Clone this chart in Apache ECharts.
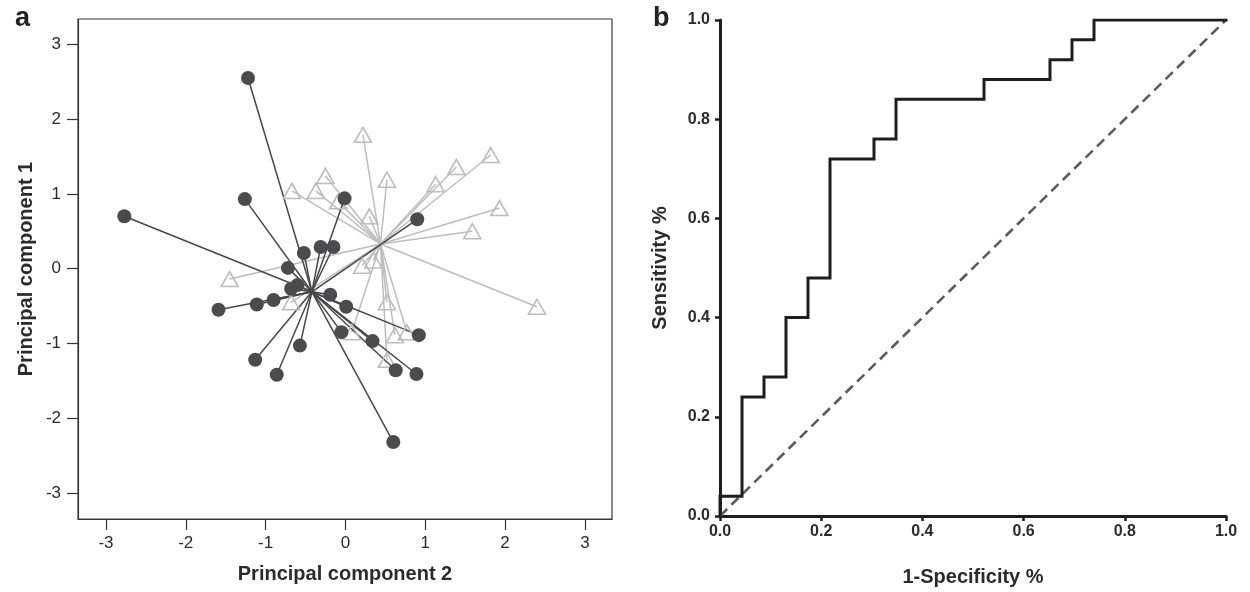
<!DOCTYPE html>
<html>
<head>
<meta charset="utf-8">
<script src="https://cdn.jsdelivr.net/npm/echarts@6/dist/echarts.min.js"></script>
<style>
  html, body { margin: 0; padding: 0; background: #fff; }
  #chart { width: 1250px; height: 592px; }
</style>
</head>
<body>
<div id="chart"></div>
<script>
// panel a: PCA scores, group 1 (filled circles) and group 2 (open triangles)
const group1X = [-1.22, -2.77, -1.26, -0.01, 0.90, -0.31, -0.15, -0.52, -0.72, -0.68, -0.60, -0.90, -1.11,
  -1.59, -1.13, -0.86, -0.57, -0.19, 0.01, -0.05, 0.34, 0.92, 0.63, 0.89, 0.60];
const group1Y = [2.55, 0.70, 0.93, 0.94, 0.66, 0.29, 0.29, 0.21, 0.01, -0.27, -0.22, -0.42, -0.48,
  -0.55, -1.22, -1.42, -1.03, -0.35, -0.51, -0.85, -0.97, -0.89, -1.36, -1.41, -2.32];
const group2X = [-0.67, -0.37, -0.25, 0.22, 0.52, 0.30, 1.13, 1.39, 1.82, 1.93, 1.59, 2.40, 0.21,
  0.35, 0.52, 0.62, 0.77, 0.08, 0.52, -1.45, -0.68, -0.09];
const group2Y = [1.04, 1.04, 1.24, 1.79, 1.19, 0.70, 1.13, 1.36, 1.52, 0.81, 0.50, -0.51, 0.04,
  0.11, -0.45, -0.89, -0.85, -0.85, -1.22, -0.14, -0.45, 0.90];
const group1Centre = [-0.42, -0.31];
const group2Centre = [0.44, 0.33];
const pcaTicks = [-3, -2, -1, 0, 1, 2, 3];

// panel b: ROC curve vertices
const rocFpr = [0, 0, 1/23, 1/23, 2/23, 2/23, 3/23, 3/23, 4/23, 4/23, 5/23, 5/23, 7/23, 7/23,
  8/23, 8/23, 12/23, 12/23, 15/23, 15/23, 16/23, 16/23, 17/23, 17/23, 1];
const rocTpr = [0, 0.04, 0.04, 0.24, 0.24, 0.28, 0.28, 0.40, 0.40, 0.48, 0.48, 0.72, 0.72, 0.76,
  0.76, 0.84, 0.84, 0.88, 0.88, 0.92, 0.92, 0.96, 0.96, 1.0, 1.0];
const chanceLine = [[0, 0], [1, 1]];

const FONT = '"Liberation Sans", Arial, sans-serif';
const pts1 = group1X.map((x, i) => [x, group1Y[i]]);
const pts2 = group2X.map((x, i) => [x, group2Y[i]]);
const spokes = (pts, c) => pts.map(p => ({ coords: [c, p] }));

const chart = echarts.init(document.getElementById('chart'));

const pcaAxis = {
  type: 'value',
  min: -3.35, max: 3.34,
  axisLine: { show: true, onZero: false, lineStyle: { color: '#3a3a3a', width: 1.2 } },
  axisTick: { show: true, length: 11, customValues: pcaTicks, lineStyle: { color: '#333', width: 1.2 } },
  splitLine: { show: false },
  nameLocation: 'middle',
  nameTextStyle: { fontFamily: FONT, fontSize: 20, fontWeight: 'bold', color: '#2b2b2b' }
};
const rocAxis = {
  type: 'value',
  min: 0, max: 1, interval: 0.2,
  axisLine: { show: true, onZero: false, lineStyle: { color: '#1e1e1e', width: 3 } },
  axisTick: { show: true, length: 5, lineStyle: { color: '#1e1e1e', width: 2.5 } },
  splitLine: { show: false },
  nameLocation: 'middle',
  nameTextStyle: { fontFamily: FONT, fontSize: 20, fontWeight: 'bold', color: '#2b2b2b' }
};

chart.setOption({
  animation: false,
  backgroundColor: '#fff',
  title: [
    { text: 'a', left: 10, top: 0, textStyle: { fontFamily: FONT, fontSize: 27, fontWeight: 'bold', color: '#222' } },
    { text: 'b', left: 648, top: 0, textStyle: { fontFamily: FONT, fontSize: 27, fontWeight: 'bold', color: '#222' } }
  ],
  grid: [
    { left: 78, top: 19, width: 534, height: 500, show: true, borderColor: '#3a3a3a', borderWidth: 1.2, backgroundColor: '#fff' },
    { left: 720, top: 20, width: 506, height: 498 }
  ],
  xAxis: [
    Object.assign({}, pcaAxis, {
      gridIndex: 0, name: 'Principal component 2', nameGap: 45,
      axisLabel: { customValues: pcaTicks, margin: 16, fontFamily: FONT, fontSize: 17, color: '#2b2b2b' }
    }),
    Object.assign({}, rocAxis, {
      gridIndex: 1, name: '1-Specificity %', nameGap: 51,
      axisLabel: { margin: 8, fontFamily: FONT, fontSize: 16, fontWeight: 'bold', color: '#2b2b2b',
        formatter: v => v.toFixed(1) }
    })
  ],
  yAxis: [
    Object.assign({}, pcaAxis, {
      gridIndex: 0, name: 'Principal component 1', nameGap: 42,
      axisLabel: { customValues: pcaTicks, margin: 17, fontFamily: FONT, fontSize: 17, color: '#2b2b2b' }
    }),
    Object.assign({}, rocAxis, {
      gridIndex: 1, name: 'Sensitivity %', nameGap: 50,
      axisLabel: { margin: 10, fontFamily: FONT, fontSize: 16, fontWeight: 'bold', color: '#2b2b2b',
        formatter: v => v.toFixed(1) }
    })
  ],
  series: [
    {
      type: 'lines', coordinateSystem: 'cartesian2d', xAxisIndex: 0, yAxisIndex: 0, z: 2,
      data: spokes(pts2, group2Centre),
      lineStyle: { color: '#bdbdbd', width: 1.5, opacity: 1 }
    },
    {
      type: 'lines', coordinateSystem: 'cartesian2d', xAxisIndex: 0, yAxisIndex: 0, z: 3,
      data: spokes(pts1, group1Centre),
      lineStyle: { color: '#474747', width: 1.5, opacity: 1 }
    },
    {
      type: 'scatter', xAxisIndex: 0, yAxisIndex: 0, z: 4,
      data: pts2, symbol: 'triangle', symbolSize: [17, 15],
      itemStyle: { color: 'rgba(255,255,255,0)', borderColor: '#bdbdbd', borderWidth: 1.6, opacity: 1 }
    },
    {
      type: 'scatter', xAxisIndex: 0, yAxisIndex: 0, z: 5,
      data: pts1, symbol: 'circle', symbolSize: 14,
      itemStyle: { color: '#4b4b4d', opacity: 1 }
    },
    {
      type: 'line', xAxisIndex: 1, yAxisIndex: 1, z: 3,
      data: chanceLine, symbol: 'none',
      lineStyle: { color: '#5c5c5c', width: 2.6, type: [10, 6] }
    },
    {
      type: 'line', xAxisIndex: 1, yAxisIndex: 1, z: 4,
      data: rocFpr.map((x, i) => [x, rocTpr[i]]), symbol: 'none',
      lineStyle: { color: '#1e1e1e', width: 3, join: 'miter', cap: 'square' }
    }
  ]
});
</script>
</body>
</html>
